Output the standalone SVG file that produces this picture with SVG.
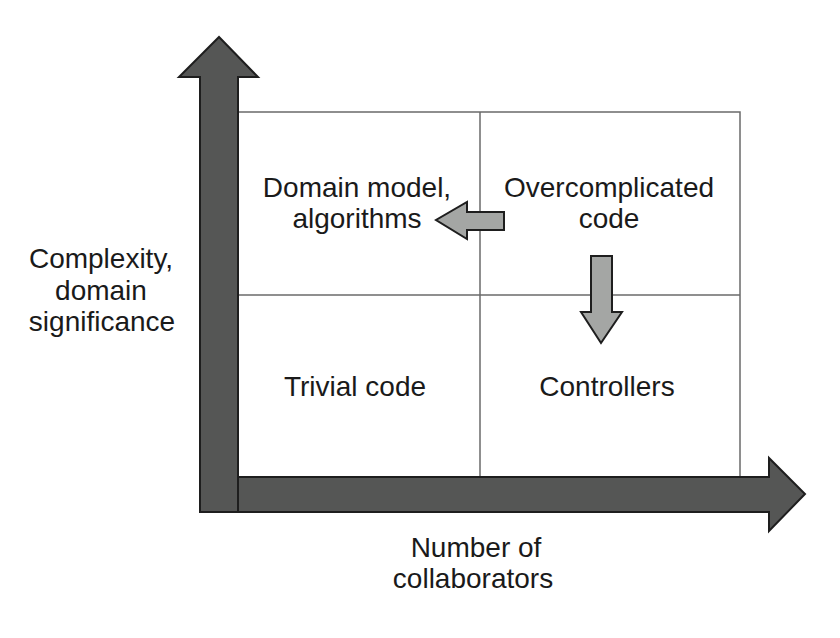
<svg xmlns="http://www.w3.org/2000/svg" width="840" height="638" viewBox="0 0 840 638">
<style>
.grid{fill:none;stroke:#6a6a6a;stroke-width:1.5}
.axis{fill:#555655;stroke:#1e1e1e;stroke-width:2;stroke-linejoin:miter}
.move{fill:#a4a6a4;stroke:#1e1e1e;stroke-width:2}
text{font-family:"Liberation Sans",Arial,sans-serif;font-size:28px;fill:#1a1a1a;text-anchor:middle}
</style>
<rect width="840" height="638" fill="#ffffff"/>
<g id="grid">
<rect class="grid" x="237" y="112" width="503" height="365"/>
<line class="grid" x1="480" y1="112" x2="480" y2="477"/>
<line class="grid" x1="237" y1="295" x2="740" y2="295"/>
</g>
<g id="connectors">
<path id="y-axis" class="axis" d="M200,512 L200,77 L179,77 L219,37 L258,77 L238,77 L238,512 Z"/>
<path id="x-axis" class="axis" d="M238,477 L769,477 L769,458 L805,494 L769,531 L769,512 L238,512 Z"/>
<path id="arrow-left" class="move" d="M504,212 L467,212 L467,202 L436,220 L467,239 L467,230 L504,230 Z"/>
<path id="arrow-down" class="move" d="M591,256 L612,256 L612,312 L622,312 L601,343 L581,312 L591,312 Z"/>
</g>
<g id="domain-model"><text x="357" y="197">Domain model,</text><text x="357" y="228">algorithms</text></g>
<g id="overcomplicated"><text x="609" y="197">Overcomplicated</text><text x="609" y="228">code</text></g>
<g id="trivial"><text x="355" y="396">Trivial code</text></g>
<g id="controllers"><text x="607" y="396">Controllers</text></g>
<g id="y-label"><text x="101" y="268">Complexity,</text><text x="101" y="300">domain</text><text x="102" y="331">significance</text></g>
<g id="x-label"><text x="476" y="557">Number of</text><text x="473" y="588">collaborators</text></g>
</svg>
